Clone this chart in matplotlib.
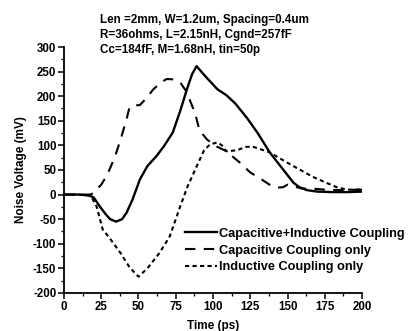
import matplotlib
matplotlib.use("Agg")
import matplotlib.pyplot as plt
from matplotlib.ticker import MultipleLocator

plt.rcParams['font.family'] = ['Liberation Sans', 'DejaVu Sans']
plt.rcParams['font.weight'] = 'bold'
plt.rcParams['axes.unicode_minus'] = False

# Capacitive + Inductive coupling (solid)
t_ci = [0, 10, 17, 20, 24, 28, 31, 35, 39, 42, 46, 51, 56, 62, 67, 73, 78, 82.5, 86, 89, 95, 103, 109, 115, 123, 130, 138, 146, 154, 158, 163, 170, 180, 190, 200]
v_ci = [0, 0, -2, -6, -24, -40, -50, -55, -50, -37, -10, 31, 58, 78, 98, 126, 170, 214, 245, 261, 240, 214, 202, 185, 155, 125, 86, 55, 24, 15, 9, 6, 5, 5, 6]

# Capacitive coupling only (dashed)
t_c = [0, 10, 18, 20, 25, 29, 34, 38, 42, 44, 47, 51, 55, 60, 65, 69, 74, 78, 82, 85, 88, 91, 96, 101, 109, 118, 125, 132, 138, 143, 147, 150, 155, 160, 167, 175, 185, 200]
v_c = [0, 0, 0, 4, 20, 40, 75, 112, 153, 178, 181, 182, 195, 214, 228, 235, 234, 228, 210, 188, 165, 130, 112, 100, 88, 65, 45, 32, 20, 14, 15, 20, 16, 12, 12, 10, 9, 10]

# Inductive coupling only (dotted)
t_l = [0, 10, 18, 22, 26, 31, 38, 44, 50, 56, 64, 71, 78, 83, 89, 94, 98, 103, 106, 109, 116, 122, 127, 138, 148, 158, 167, 176, 183, 190, 200]
v_l = [0, 0, -2, -25, -71, -90, -119, -148, -167, -150, -119, -85, -24, 17, 57, 90, 102, 106, 100, 88, 90, 97, 97, 86, 68, 51, 36, 24, 15, 10, 10]

fig = plt.figure(figsize=(4.10, 3.31), dpi=100)
ax = fig.add_axes([0.156, 0.115, 0.727, 0.743])

ax.plot(t_ci, v_ci, color='black', lw=1.7, linestyle='-', label='Capacitive+Inductive Coupling')
ax.plot(t_c, v_c, color='black', lw=1.5, linestyle=(0, (5, 4)), label='Capacitive Coupling only')
ax.plot(t_l, v_l, color='black', lw=1.5, linestyle=(0, (2, 1.6)), label='Inductive Coupling only')

ax.set_xlim(0, 200)
ax.set_ylim(-200, 300)
ax.xaxis.set_major_locator(MultipleLocator(25))
ax.xaxis.set_minor_locator(MultipleLocator(12.5))
ax.yaxis.set_major_locator(MultipleLocator(50))
ax.yaxis.set_minor_locator(MultipleLocator(25))
for s in ['top', 'right']:
    ax.spines[s].set_visible(False)
for s in ['left', 'bottom']:
    ax.spines[s].set_linewidth(1.3)
ax.tick_params(which='major', direction='out', length=4, width=1.1, labelsize=8.3, pad=1.5)
ax.tick_params(which='minor', direction='out', length=2, width=0.9)
for lab in ax.get_xticklabels() + ax.get_yticklabels():
    lab.set_fontweight('bold')

ax.set_xlabel('Time (ps)', fontsize=8.5, fontweight='bold', labelpad=5)
ax.set_ylabel('Noise Voltage (mV)', fontsize=8.5, fontweight='bold', labelpad=4)

fig.text(0.245, 0.94, 'Len =2mm, W=1.2um, Spacing=0.4um', fontsize=8.4, fontweight='bold', va='center')
fig.text(0.245, 0.895, 'R=36ohms, L=2.15nH, Cgnd=257fF', fontsize=8.4, fontweight='bold', va='center')
fig.text(0.245, 0.85, 'Cc=184fF, M=1.68nH, tin=50p', fontsize=8.4, fontweight='bold', va='center')

leg = ax.legend(loc='upper left', bbox_to_anchor=(0.405, 0.265), frameon=False,
                fontsize=9.2, handlelength=2.5, handletextpad=0.15, labelspacing=0.38,
                borderpad=0.0, borderaxespad=0)
for txt in leg.get_texts():
    txt.set_fontweight('bold')

fig.savefig('out.png', dpi=100)
